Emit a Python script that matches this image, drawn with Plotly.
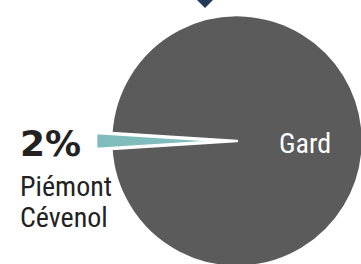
import plotly.graph_objects as go

# Data
labels = ["Piémont Cévenol", "Gard"]
values = [2, 98]
colors = ["#80bcbb", "#5b5b5b"]

W, H = 378, 282

def px(x):
    return x / W

def py(y):
    return 1 - y / H

fig = go.Figure(go.Pie(
    labels=labels,
    values=values,
    sort=False,
    direction="clockwise",
    rotation=270 - 360 * values[0] / 100 / 2,
    pull=[0.12, 0],
    marker=dict(colors=colors, line=dict(color="white", width=2.5)),
    textinfo="none",
    hoverinfo="label+percent",
    showlegend=False,
    domain=dict(x=[96 / W, 1], y=[0, 1]),
))

cond = "Liberation Sans Narrow, Roboto Condensed, Arial Narrow, sans-serif"

annotations = [
    dict(x=px(18), y=py(143), text=f"<b>{values[0]}%</b>", xanchor="left", yanchor="middle",
         font=dict(family="DejaVu Sans", size=36, color="#222222", weight=900), showarrow=False,
         xref="paper", yref="paper"),
]
words = labels[0].split()
for i, w in enumerate(words):
    annotations.append(dict(x=px(18), y=py(186 + 31.5 * i), text=w, xanchor="left", yanchor="middle",
                            font=dict(family=cond, size=28, color="#222222"), showarrow=False,
                            xref="paper", yref="paper"))
annotations.append(dict(x=px(277), y=py(143.5), text=labels[1], xanchor="left", yanchor="middle",
                        font=dict(family=cond, size=28, color="white"), showarrow=False,
                        xref="paper", yref="paper"))

fig.update_layout(
    width=W, height=H,
    margin=dict(l=0, r=0, t=0, b=0),
    paper_bgcolor="white",
    plot_bgcolor="white",
    annotations=annotations,
    shapes=[dict(type="path", xref="paper", yref="paper",
                 path=f"M {px(196)},{py(-1)} L {px(214)},{py(-1)} L {px(205)},{py(8)} Z",
                 fillcolor="#203a57", line=dict(width=0))],
)

fig.write_html("out.html", config={"displayModeBar": False},
               post_script="document.body.style.margin='0';document.body.style.overflow='hidden';")
